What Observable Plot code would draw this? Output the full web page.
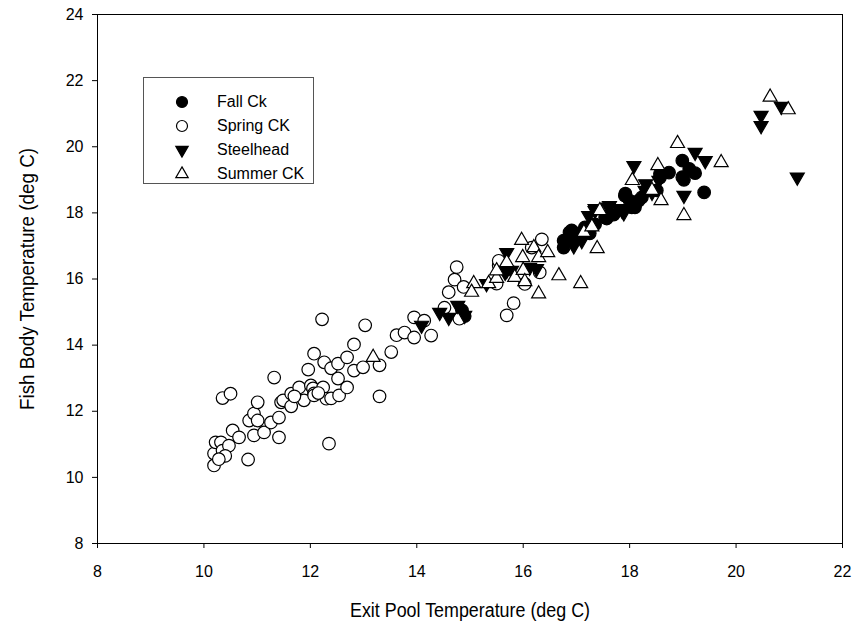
<!DOCTYPE html>
<html><head><meta charset="utf-8">
<script src="https://cdn.jsdelivr.net/npm/d3@7"></script>
<script src="https://cdn.jsdelivr.net/npm/@observablehq/plot@0.6"></script>
<style>
body{margin:0;background:#fff;font-family:"Liberation Sans",Arial,sans-serif;}
#wrap{position:relative;width:857px;height:631px;}
#legend{position:absolute;left:143px;top:77px;width:171px;height:107px;border:1px solid #555;background:#fff;box-sizing:border-box;}
.row{position:absolute;left:0;height:20px;display:flex;align-items:center;font-size:16px;color:#000;}
.row svg{position:absolute;left:28px;top:0;}
.row span{position:absolute;left:73px;white-space:nowrap;}
</style>
</head><body>
<div id="wrap"><div id="chart"></div><div id="legend"></div></div>
<script>
const seriesNames = ["Fall Ck", "Spring CK", "Steelhead", "Summer CK"];
const xTicks = [8, 10, 12, 14, 16, 18, 20, 22];
const yTicks = [8, 10, 12, 14, 16, 18, 20, 22, 24];
const xTitle = "Exit Pool Temperature (deg C)";
const yTitle = "Fish Body Temperature (deg C)";

const fallX = [14.90,14.85,16.76,16.76,16.87,16.91,17.04,17.16,17.25,17.54,17.57,17.92,17.91,18.04,18.10,18.00,18.17,18.23,18.32,18.51,18.57,18.57,18.74,18.99,18.99,19.12,19.02,19.23,19.40,17.70,16.95,17.35];
const fallY = [14.88,15.05,16.95,17.16,17.41,17.47,17.38,17.56,17.38,17.86,17.83,18.58,18.52,18.17,18.17,18.37,18.37,18.47,18.68,18.68,19.18,19.07,19.22,19.58,19.08,19.33,19.00,19.20,18.62,17.95,17.20,17.65];

const springX = [10.19,10.19,10.22,10.32,10.35,10.47,10.54,10.66,10.83,10.35,10.50,10.85,10.94,11.01,10.94,11.13,11.26,11.41,11.41,11.01,11.32,11.45,11.49,11.64,11.64,11.79,11.88,12.01,12.05,12.07,12.07,12.24,12.30,12.39,12.54,11.96,12.07,12.22,12.26,12.39,12.52,12.52,12.69,12.69,12.82,12.82,12.99,13.03,13.30,13.30,12.35,13.52,13.62,13.77,13.95,13.95,14.14,14.27,14.75,14.71,14.60,14.88,14.52,14.80,15.69,15.50,15.54,15.54,15.82,16.03,16.31,16.16,16.35,10.40,10.28,11.70,12.15];
const springY = [10.36,10.72,11.06,11.06,10.81,10.96,11.42,11.21,10.54,12.40,12.53,11.72,11.93,11.72,11.27,11.36,11.66,11.81,11.21,12.27,13.02,12.27,12.33,12.53,12.15,12.72,12.33,12.78,12.69,12.54,12.48,12.72,12.38,12.39,12.48,13.26,13.74,14.78,13.48,13.30,13.44,12.99,13.63,12.72,13.23,14.02,13.33,14.60,13.39,12.45,11.02,13.79,14.30,14.38,14.84,14.23,14.74,14.29,16.36,15.98,15.60,15.76,15.13,14.80,14.90,15.86,16.41,16.55,15.27,15.85,16.20,16.95,17.20,10.65,10.55,12.45,12.55];

const steelX = [14.09,14.43,14.60,14.77,14.90,15.31,15.66,15.69,15.69,15.78,16.12,16.25,16.97,16.95,17.10,17.23,17.35,17.35,17.60,17.62,17.80,17.86,17.89,18.08,18.29,18.30,18.42,18.55,19.02,19.23,19.42,20.47,20.47,20.85,21.15];
const steelY = [14.60,14.99,14.84,15.20,14.90,15.86,16.20,16.80,16.26,16.26,16.35,16.31,17.16,17.00,17.16,17.92,18.07,18.13,18.17,18.22,18.13,18.07,18.00,19.43,18.68,18.88,18.62,18.98,18.53,19.83,19.58,20.95,20.64,21.22,19.08];

const summerX = [13.18,15.07,15.03,15.35,15.50,15.50,15.69,15.84,15.97,15.99,16.00,16.20,16.29,16.46,16.03,16.67,17.08,16.29,17.39,17.14,17.29,17.44,18.05,18.42,18.53,18.59,19.02,18.90,19.72,20.64,20.98];
const summerY = [13.63,15.86,15.60,15.86,16.02,16.25,16.50,16.05,17.17,16.65,16.26,16.95,16.65,16.80,15.92,16.10,15.86,15.55,16.92,17.41,17.58,18.07,18.98,18.68,19.43,18.37,17.92,20.10,19.52,21.50,21.12];

const toRows = (xs, ys) => xs.map((x, i) => ({x, y: ys[i]}));
const fall = toRows(fallX, fallY);
const spring = toRows(springX, springY);
const steel = toRows(steelX, steelY);
const summer = toRows(summerX, summerY);

const styles = [
  {symbol: "circle", fill: "#000", stroke: "#000", r: 6.3, rotate: 0},
  {symbol: "circle", fill: "#fff", stroke: "#000", r: 6.3, rotate: 0},
  {symbol: "triangle", fill: "#000", stroke: "#000", r: 5.2, rotate: 180},
  {symbol: "triangle", fill: "#fff", stroke: "#000", r: 5.2, rotate: 0}
];
const datasets = [fall, spring, steel, summer];

const chart = Plot.plot({
  width: 857, height: 631,
  marginLeft: 97, marginRight: 15, marginTop: 14, marginBottom: 88,
  style: {fontFamily: "Liberation Sans, Arial, sans-serif", fontSize: "16px", color: "#000", background: "#fff"},
  x: {domain: [8, 22]},
  y: {domain: [8, 24]},
  marks: [
    Plot.frame({stroke: "#000", strokeWidth: 1}),
    Plot.axisX({ticks: xTicks, tickSize: 5, tickPadding: 17, fontSize: 16, label: null, tickFormat: d => String(d)}),
    Plot.axisY({ticks: yTicks, tickSize: 5, tickPadding: 9, fontSize: 16, label: null, tickFormat: d => String(d)}),
    Plot.text([xTitle], {frameAnchor: "bottom", dy: 73, fontSize: 20, fill: "#000", textAnchor: "middle"}),
    Plot.text([yTitle], {frameAnchor: "left", dx: -70, rotate: -90, fontSize: 20, fill: "#000", textAnchor: "middle"}),
    ...datasets.map((d, i) => Plot.dot(d, {
      x: "x", y: "y", symbol: styles[i].symbol, r: styles[i].r, rotate: styles[i].rotate,
      fill: styles[i].fill, stroke: styles[i].stroke, strokeWidth: 1.2
    }))
  ]
});
document.getElementById("chart").appendChild(chart);
// condense axis titles to match the narrow look of the original
d3.select(chart).selectAll("text").each(function() {
  if (this.textContent === xTitle) {
    d3.select(this).attr("textLength", 240).attr("lengthAdjust", "spacingAndGlyphs");
  } else if (this.textContent === yTitle) {
    d3.select(this).attr("textLength", 262).attr("lengthAdjust", "spacingAndGlyphs");
  }
});

// legend
const legend = document.getElementById("legend");
const rowTops = [14, 38, 62, 86];
seriesNames.forEach((name, i) => {
  const row = document.createElement("div");
  row.className = "row";
  row.style.top = rowTops[i] + "px";
  const s = styles[i];
  const svg = d3.create("svg").attr("width", 20).attr("height", 20);
  const sym = d3.symbol(s.symbol === "circle" ? d3.symbolCircle : d3.symbolTriangle, Math.PI * (s.symbol === "circle" ? 5.5 * 5.5 : 4.6 * 4.6));
  svg.append("path").attr("d", sym()).attr("transform", `translate(10,10) rotate(${s.rotate})`)
    .attr("fill", s.fill).attr("stroke", s.stroke).attr("stroke-width", 1.2);
  row.appendChild(svg.node());
  const span = document.createElement("span");
  span.textContent = name;
  row.appendChild(span);
  legend.appendChild(row);
});
</script>
</body></html>
